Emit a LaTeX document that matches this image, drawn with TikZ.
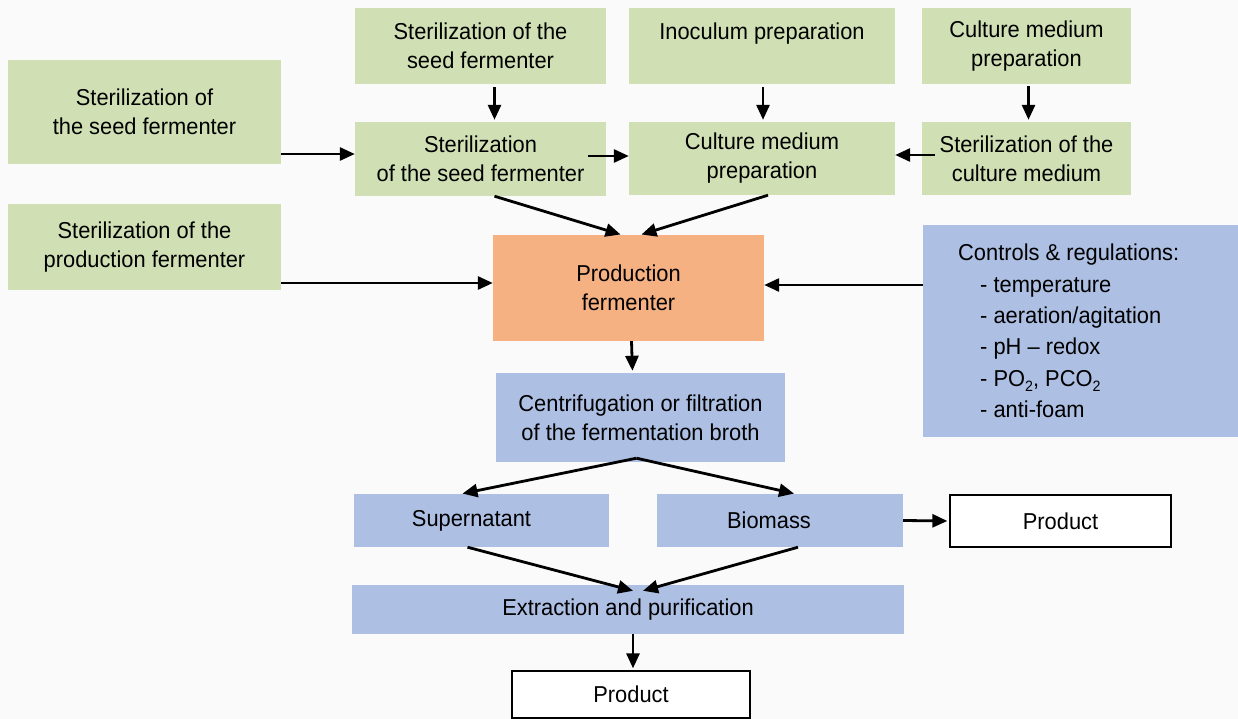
\documentclass[tikz,border=0pt]{standalone}
\usepackage{fontspec}
\setmainfont{Liberation Sans}[FakeStretch=0.95]
\usetikzlibrary{arrows.meta,calc}
\definecolor{gfill}{RGB}{208,224,180}
\definecolor{ofill}{RGB}{246,177,131}
\definecolor{bfill}{RGB}{173,191,227}
\definecolor{bg}{RGB}{250,250,250}
\newcommand{\subtwo}{\raisebox{-5pt}{\fontsize{15}{15}\selectfont 2}}
\begin{document}
\begin{tikzpicture}[x=1pt,y=-1pt,
  box/.style={rectangle,inner sep=0pt,align=center,font=\fontsize{23}{29}\selectfont},
  gbox/.style={box,fill=gfill},
  obox/.style={box,fill=ofill},
  bbox/.style={box,fill=bfill},
  wbox/.style={box,fill=white,draw=black,line width=1.3pt},
  arr/.style={-{Triangle[length=15pt,width=13pt]},line width=2.8pt,black}]
\fill[bg] (0,0) rectangle (1238,719);
\useasboundingbox (0,0) rectangle (1238,719);
% green boxes
\node[gbox,minimum width=273,minimum height=104] (A) at (144.5,112) {Sterilization of\\the seed fermenter};
\node[gbox,minimum width=251,minimum height=76] (B) at (480.5,46) {Sterilization of the\\seed fermenter};
\node[gbox,minimum width=266,minimum height=76] (C) at (762,46) {Inoculum preparation\\\mbox{}};
\node[gbox,minimum width=209,minimum height=76] (D) at (1026.5,46) {Culture medium\\preparation};
\node[gbox,minimum width=251,minimum height=74] (E) at (480.5,159) {Sterilization\\of the seed fermenter};
\node[gbox,minimum width=266,minimum height=73] (F) at (762,158.5) {Culture medium\\preparation};
\node[gbox,minimum width=209,minimum height=73] (G) at (1026.5,158.5) {Sterilization of the\\culture medium};
\node[gbox,minimum width=273,minimum height=86] (H) at (144.5,247) {Sterilization of the\\production fermenter};
% production fermenter
\node[obox,minimum width=271,minimum height=106] (P) at (628.5,288) {Production\\fermenter};
% controls
\node[bbox,minimum width=315,minimum height=212] (K) at (1080.5,331) {};
\node[box,anchor=north west,align=left,font=\fontsize{23}{31.3}\selectfont] (Kt) at (958,244) {Controls \& regulations:\\
\hspace{22pt}- temperature\\
\hspace{22pt}- aeration/agitation\\
\hspace{22pt}- pH -- redox\\
\hspace{22pt}- PO\subtwo, PCO\subtwo\\
\hspace{22pt}- anti-foam};
% blue boxes
\node[bbox,minimum width=289,minimum height=89] (Cn) at (640.5,417.5) {Centrifugation or filtration\\of the fermentation broth};
\node[bbox,minimum width=255,minimum height=53] (S) at (481.5,520.5) {\hspace*{-20pt}Supernatant};
\node[bbox,minimum width=246,minimum height=53] (Bm) at (780,520.5) {\hspace*{-22pt}Biomass};
\node[bbox,minimum width=552,minimum height=49] (X) at (628,609.5) {Extraction and purification};
% products
\node[wbox,minimum width=221,minimum height=52] (Pr) at (1060.5,521) {Product};
\node[wbox,minimum width=238,minimum height=47] (Pb) at (631,694.5) {Product};
% helper coordinates
\coordinate (apex) at ([xshift=-4,yshift=4]Cn.south);
\coordinate (xin) at ([xshift=5,yshift=-6]X.north);
% connectors
\draw[arr] (A.east |- 0,154) -- (E.west |- 0,154);
\draw[arr,shorten <=3pt,shorten >=2pt] ([xshift=14]B.south) -- ([xshift=14]E.north);
\draw[arr,shorten <=3pt,shorten >=2pt] ([xshift=1]C.south) -- ([xshift=1]F.north);
\draw[arr,shorten <=2pt,shorten >=2pt] ([xshift=2]D.south) -- ([xshift=2]G.north);
\draw[arr] ([xshift=-18]E.east |- 0,156) -- (F.west |- 0,156);
\draw[arr] ([xshift=13]G.west |- 0,155) -- (F.east |- 0,155);
\draw[arr,shorten >=1pt] ([xshift=14]E.south) -- ([xshift=-7]P.north);
\draw[arr,shorten >=1pt] ([xshift=6]F.south) -- ([xshift=12]P.north);
\draw[arr] (H.east |- 0,283) -- (P.west |- 0,283);
\draw[arr] (K.west |- 0,285) -- (P.east |- 0,285);
\draw[arr,shorten >=2pt] ([xshift=3]P.south) -- ([xshift=-8]Cn.north);
\draw[arr,shorten >=1pt] (apex) -- ([xshift=-20]S.north);
\draw[arr,shorten >=1pt] (apex) -- ([xshift=15]Bm.north);
\draw[arr] ([xshift=-14]S.south) -- (xin);
\draw[arr] ([xshift=18]Bm.south) -- ([xshift=10]xin);
\draw[arr,shorten >=2pt] ([xshift=5]X.south) -- ([xshift=2]Pb.north);
\draw[arr,shorten >=2pt] (Bm.east) -- (Pr.west);
\end{tikzpicture}
\end{document}
